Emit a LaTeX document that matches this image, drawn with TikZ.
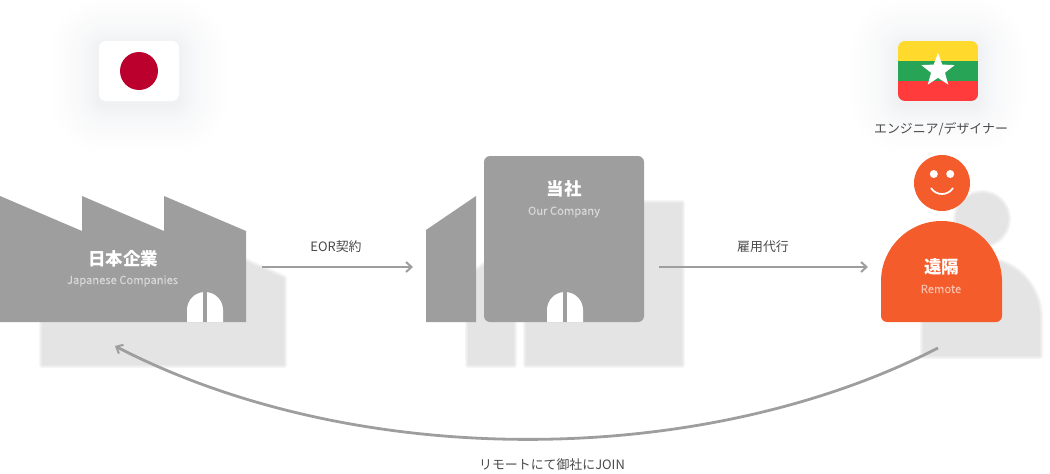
\documentclass[tikz,border=0pt]{standalone}
\usepackage{fontspec}
\setmainfont{Noto Sans CJK JP}
\newfontface\subface{Noto Sans CJK JP}[FakeBold=0.2]
\usetikzlibrary{arrows.meta,calc}
\definecolor{bldg}{HTML}{9E9E9E}
\definecolor{dropgray}{HTML}{E4E4E4}
\definecolor{orng}{HTML}{F45D2B}
\definecolor{halo}{HTML}{7F8C9C}
\definecolor{lbl}{HTML}{4A4A4A}
\definecolor{jpred}{HTML}{BC002D}
\definecolor{mmyellow}{HTML}{FFDA2C}
\definecolor{mmgreen}{HTML}{27A456}
\definecolor{mmred}{HTML}{FF3B3B}
\tikzset{
  flow/.style={draw=bldg,line width=2.8pt,-{Straight Barb[length=5.5pt,width=10pt,line width=2pt]}},
  capt/.style={text=lbl,font=\fontsize{12.9}{15}\selectfont,inner sep=0pt},
  titlew/.style={text=white,font=\fontsize{17.5}{20}\selectfont\bfseries,inner sep=0pt},
  subw/.style={text=#1,font=\fontsize{11.2}{13}\subface,inner sep=0pt},
  subw/.default={white!60!bldg}
}
\newcommand{\softshape}[1]{%
  \foreach \w in {6,4,2}{\path[draw=dropgray,line width=\w pt,line join=round,opacity=.35] #1;}%
  \fill[dropgray] #1;}
\newcommand{\flaghalo}[1]{%
  \foreach \w in {2,4,6,8,10,12,15,18,21,24,28,32,37,42,48}{\fill[halo,opacity=.0065,rounded corners=\w pt+6pt] (#1-\w,45-\w) rectangle (#1+80+\w,105+\w);}}
\newcommand{\doorpath}[1]{%
  \fill[white] (#1,322) -- (#1,310) .. controls (#1,300.06) and ($(#1,292)+(8.06,0)$) .. ($(#1,292)+(18,0)$)
     .. controls ($(#1,292)+(27.94,0)$) and ($(#1,300.06)+(36,0)$) .. ($(#1,310)+(36,0)$) -- ($(#1,322)+(36,0)$) -- cycle;
  \fill[bldg] ($(#1,292)+(16,0)$) rectangle ($(#1,322)+(20,0)$);}
\begin{document}
\begin{tikzpicture}[x=1pt,y=-1pt]
\useasboundingbox (0,0) rectangle (1050,474);
% drop shadows
\softshape{(42,243) -- (122,278) -- (122,243) -- (204,278) -- (204,243) -- (284,278) -- (284,365) -- (42,365) -- cycle}
\softshape{(468,277) -- (514,243) -- (514,365) -- (468,365) -- cycle}
\softshape{(526,203) -- (682,203) -- (682,365) -- (526,365) -- cycle}
\softshape{(982,193) .. controls (996.4,193) and (1008,204.6) .. (1008,219) .. controls (1008,233.4) and (996.4,245) .. (982,245) .. controls (967.6,245) and (956,233.4) .. (956,219) .. controls (956,204.6) and (967.6,193) .. (982,193) -- cycle}
\softshape{(923,317.5) .. controls (923,285.2) and (949.2,259) .. (981.5,259) .. controls (1013.8,259) and (1040,285.2) .. (1040,317.5) -- (1040,356) -- (923,356) -- cycle}
% Flags
\flaghalo{99}
\flaghalo{898}
\fill[white,rounded corners=7pt] (99,41) rectangle (179,101);
\node[circle,fill=jpred,minimum size=38pt,inner sep=0pt] (jpsun) at (139,71) {};
\begin{scope}
\clip[rounded corners=7pt] (898,41) rectangle (978,101);
\fill[fill=mmyellow] (898,41) rectangle (978,61);
\fill[fill=mmgreen] (898,61) rectangle (978,81);
\fill[fill=mmred] (898,81) rectangle (978,101);
\end{scope}
\fill[white] (938,53) -- (942.29,64.59) -- (954.64,65.09) -- (944.94,72.76) -- (948.29,84.66) -- (938,77.8) -- (927.71,84.66) -- (931.06,72.76) -- (921.36,65.09) -- (933.71,64.59) -- cycle;
\node[capt] (role) at (941,129.5) {エンジニア/デザイナー};
% Japanese companies
\fill[bldg] (0,196) -- (82,231) -- (82,196) -- (164,231) -- (164,196) -- (246,231) -- (246,322) -- (0,322) -- cycle;
\doorpath{187}
\node[titlew] (jp) at (123,258.5) {日本企業};
\node[subw] (jpen) at (122.5,281) {Japanese Companies};
% Our company
\fill[bldg] (426,230) -- (476,196) -- (476,322) -- (426,322) -- cycle;
\fill[bldg,rounded corners=6pt] (484,156) rectangle (644,322);
\doorpath{547}
\node[titlew] (us) at (564,189) {当社};
\node[subw] (usen) at (564,212) {Our Company};
% Remote person
\fill[orng] (942,155) .. controls (957.5,155) and (970,167.5) .. (970,183) .. controls (970,198.5) and (957.5,211) .. (942,211) .. controls (926.5,211) and (914,198.5) .. (914,183) .. controls (914,167.5) and (926.5,155) .. (942,155) -- cycle;
\node[circle,fill=white,minimum size=8pt,inner sep=0pt] (eyeL) at (933.8,174) {};
\node[circle,fill=white,minimum size=8pt,inner sep=0pt] (eyeR) at (950.2,174) {};
\draw[white,line width=1.7pt] (931,188) .. controls (936,196) and (948,196) .. (953,188);
\fill[orng] (881,281.5) .. controls (881,248.1) and (908.1,221) .. (941.5,221) .. controls (974.9,221) and (1002,248.1) .. (1002,281.5) -- (1002,316) .. controls (1002,319.3) and (999.3,322) .. (996,322) -- (887,322) .. controls (883.7,322) and (881,319.3) .. (881,316) -- cycle;
\node[titlew] (rem) at (941.5,266.5) {遠隔};
\node[subw=orng!40!white] (remen) at (941,289) {Remote};
% Connectors
\coordinate (a1s) at (262,267); \coordinate (a1e) at (413,267);
\coordinate (a2s) at (659,267); \coordinate (a2e) at (868,267);
\coordinate (a3s) at (938,348); \coordinate (a3e) at (115,346);
\draw[flow] (a1s) -- (a1e);
\draw[flow] (a2s) -- (a2e);
\draw[flow] (a3s) .. controls (700,470) and (354,470) .. (a3e);
\node[capt] (l1) at (336,246.5) {EOR契約};
\node[capt] (l2) at (763,246.5) {雇用代行};
\node[capt] (l3) at (552,464.5) {リモートにて御社にJOIN};
\end{tikzpicture}
\end{document}
